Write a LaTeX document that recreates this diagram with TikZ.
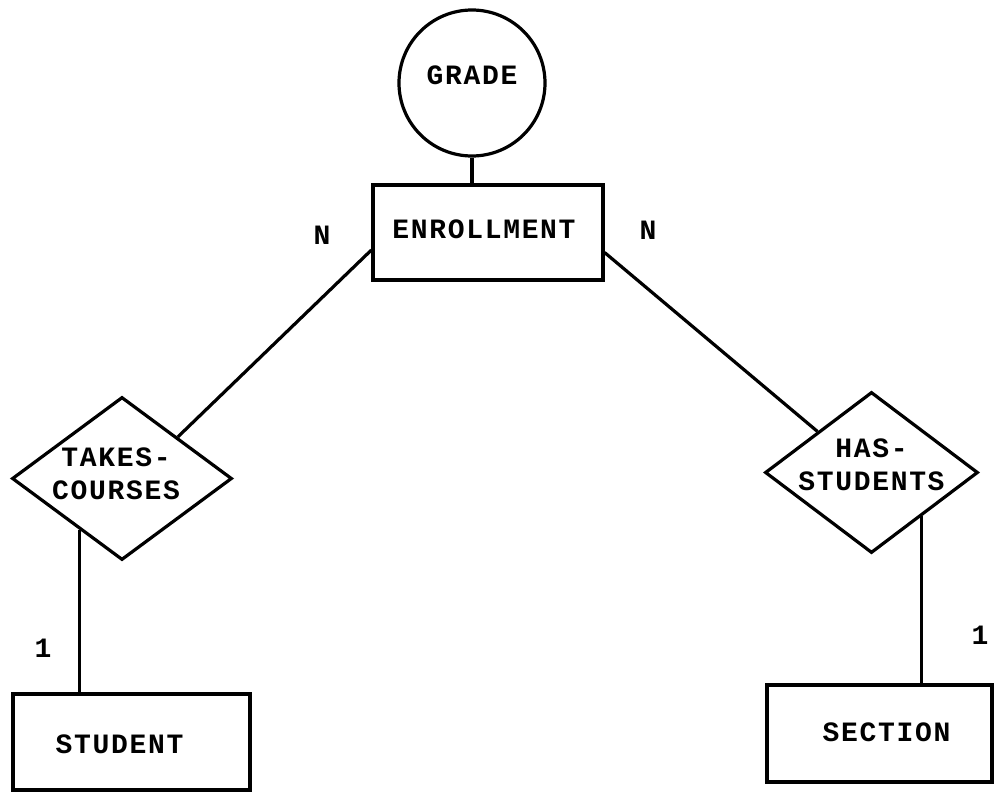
\documentclass[tikz,border=0pt]{standalone}
\usepackage{fontspec}
\newfontfamily\typefont[LetterSpace=6]{Liberation Mono}
\usetikzlibrary{shapes.geometric,calc}

\begin{document}
\begin{tikzpicture}[x=1pt,y=-1pt,
  every node/.style={font=\typefont\bfseries\fontsize{28}{33}\selectfont},
  line/.style={line width=3.2pt},
  entity/.style={draw,line width=3.2pt,rectangle,inner sep=0pt},
  relation/.style={draw,line width=3.2pt,diamond,inner sep=0pt},
  attribute/.style={draw,line width=3.2pt,circle,inner sep=0pt},
  card/.style={inner sep=0pt}]
\useasboundingbox (0,0) rectangle (997,803);

% attribute
\node[attribute, minimum size=146, label={[yshift=8pt]center:GRADE}] (grade) at (472,83) {};

% entities
\node[entity, minimum width=230, minimum height=95,
      label={[xshift=-4pt,yshift=3pt]center:ENROLLMENT}] (enroll) at (488,232.5) {};
\node[entity, minimum width=237, minimum height=96,
      label={[xshift=-12pt,yshift=-2pt]center:STUDENT}] (student) at (131.5,742) {};
\node[entity, minimum width=225, minimum height=97,
      label={[xshift=7pt,yshift=1pt]center:SECTION}] (section) at (879.5,733.5) {};

% relationships
\node[relation, minimum width=220, minimum height=163,
      label={[align=center,xshift=-6pt,yshift=5pt]center:TAKES-\\COURSES}] (tc) at (122,478.5) {};
\node[relation, minimum width=213, minimum height=161,
      label={[align=center,yshift=8pt]center:HAS-\\STUDENTS}] (hs) at (871.5,472.5) {};

% connectors
\draw[line] (grade.south) -- (grade.south |- enroll.north);
\draw[line] ([yshift=-17.5pt]enroll.west) -- (tc.north east);
\draw[line] ([yshift=-20pt]enroll.east) -- (hs.north west);
\coordinate (tcfoot) at ($(tc.west)!0.62!(tc.south)$);
\draw[line] (tcfoot) -- (tcfoot |- student.north);
\coordinate (hsfoot) at ($(hs.south)!0.465!(hs.east)$);
\draw[line] (hsfoot) -- (hsfoot |- section.north);

% cardinalities
\node[card] (nleft) at (322,235) {N};
\node[card] (nright) at (648,230) {N};
\node[card] (oneleft) at (43,648) {1};
\node[card] (oneright) at (980,635) {1};
\end{tikzpicture}
\end{document}
